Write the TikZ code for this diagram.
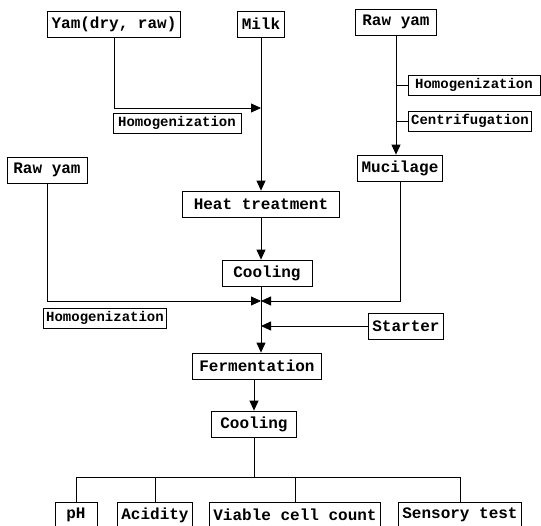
\documentclass[tikz,border=0pt]{standalone}
\usepackage{fontspec}
\setmonofont{Liberation Mono}
\usetikzlibrary{arrows.meta}

\tikzset{
  stepbox/.style={draw,line width=0.8pt,inner xsep=4pt,inner ysep=2pt,minimum height=26pt,
    font=\ttfamily\bfseries\fontsize{16}{18}\selectfont},
  opbox/.style={draw,line width=0.7pt,inner xsep=3pt,inner ysep=1pt,minimum height=20pt,
    font=\ttfamily\bfseries\fontsize{14}{16}\selectfont},
  flow/.style={line width=0.8pt,-{Triangle[length=10pt,width=9pt]}},
  link/.style={line width=0.8pt}
}

\begin{document}
\begin{tikzpicture}[x=1pt,y=-1pt]
                    \useasboundingbox (0,0) rectangle (541,525);
                    \node[stepbox] (yamdry) at (114,24) {Yam(dry, raw)};
                    \node[stepbox] (milk) at (261,24) {Milk};
                    \node[stepbox,minimum width=81pt] (rawyamR) at (396,22) {Raw yam};
                    \node[opbox,minimum width=132pt] (homR) at (474,85) {Homogenization};
                    \node[opbox,minimum width=118pt] (cenR) at (470,121) {Centrifugation};
                    \node[stepbox] (mucilage) at (400,168) {Mucilage};
                    \node[stepbox,minimum width=80pt] (rawyamL) at (47,170) {Raw yam};
                    \node[opbox,minimum width=128pt] (homA) at (177,123) {Homogenization};
                    \node[stepbox,minimum width=157pt] (heat) at (261,204) {Heat treatment};
                    \node[stepbox,minimum width=90pt] (coolA) at (267,273) {Cooling};
                    \node[opbox,minimum width=123pt] (homB) at (105,318) {Homogenization};
                    \node[stepbox] (starter) at (406,326) {Starter};
                    \node[stepbox,minimum width=129pt] (ferm) at (257,366) {Fermentation};
                    \node[stepbox,minimum width=85pt] (coolB) at (254,424) {Cooling};
                    \node[stepbox,minimum width=42pt] (ph) at (76,515) {pH};
                    \node[stepbox] (acid) at (155,515) {Acidity};
                    \node[stepbox] (viable) at (295,515) {Viable cell count};
                    \node[stepbox] (sensory) at (460,515) {Sensory test};
                    \coordinate (yamin) at (261,108);
                    \coordinate (join) at (261,301);
                    \coordinate (split) at (254,477);
                    % top part
                    \draw [flow] (yamdry.south) |- (yamin);
                    \draw [flow] (milk.south) -- (milk.south |- heat.north);
                    \draw [flow] (rawyamR.south) -- (rawyamR.south |- mucilage.north);
                    \draw [link] (homR.west) -- (homR.west -| rawyamR.south);
                    \draw [link] (cenR.west) -- (cenR.west -| rawyamR.south);
                    \draw [flow] (heat.south) -- (heat.south |- coolA.north);
                    % mixing
                    \draw [link] (coolA.south -| join) -- (join);
                    \draw [flow] (rawyamL.south) |- (join);
                    \draw [flow] (mucilage.south) |- (join);
                    \draw [flow] (starter.west) -- (starter.west -| join);
                    \draw [flow] (join) -- (ferm.north -| join);
                    \draw [flow] (ferm.south -| coolB.north) -- (coolB.north);
                    % analyses
                    \draw [link] (coolB.south) -- (split);
                    \draw [link] (split) -| (ph.north);
                    \draw [link] (split) -| (acid.north);
                    \draw [link] (split) -| (viable.north);
                    \draw [link] (split) -| (sensory.north);
                \end{tikzpicture}
\end{document}
